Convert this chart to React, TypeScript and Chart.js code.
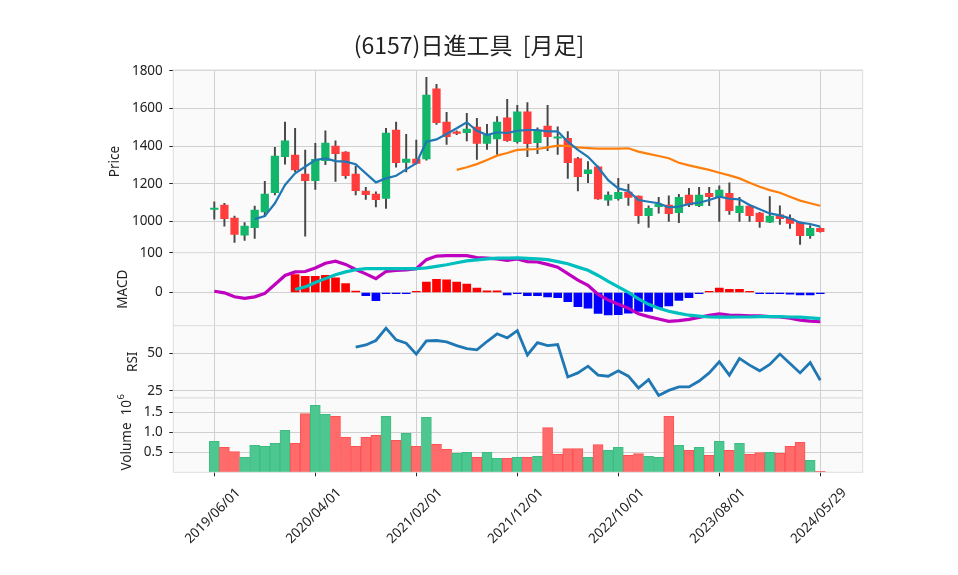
import React, { useEffect, useRef } from "react";
import { Chart, registerables } from "chart.js";

Chart.register(...registerables);

// ---------------- data ----------------
const dates: string[] = [
  "2019/06/01", "2019/07/01", "2019/08/01", "2019/09/01", "2019/10/01", "2019/11/01", "2019/12/01",
  "2020/01/01", "2020/02/01", "2020/03/01", "2020/04/01", "2020/05/01", "2020/06/01",
  "2020/07/01", "2020/08/01", "2020/09/01", "2020/10/01", "2020/11/01", "2020/12/01",
  "2021/01/01", "2021/02/01", "2021/03/01", "2021/04/01", "2021/05/01", "2021/06/01",
  "2021/07/01", "2021/08/01", "2021/09/01", "2021/10/01", "2021/11/01", "2021/12/01",
  "2022/01/01", "2022/02/01", "2022/03/01", "2022/04/01", "2022/05/01", "2022/06/01",
  "2022/07/01", "2022/08/01", "2022/09/01", "2022/10/01", "2022/11/01", "2022/12/01",
  "2023/01/01", "2023/02/01", "2023/03/01", "2023/04/01", "2023/05/01", "2023/06/01",
  "2023/07/01", "2023/08/01", "2023/09/01", "2023/10/01", "2023/11/01", "2023/12/01",
  "2024/01/01", "2024/02/01", "2024/03/01", "2024/04/01", "2024/05/01", "2024/05/29",
];
const xTickIdx: number[] = [0, 10, 20, 30, 40, 50, 60];

const open: number[] = [
  1063, 1087, 1018, 926, 966, 1050, 1152, 1343, 1352, 1251,
  1216, 1322, 1400, 1368, 1251, 1161, 1145, 1122, 1485, 1313,
  1331, 1331, 1703, 1527, 1472, 1471, 1501, 1414, 1437, 1549,
  1423, 1581, 1418, 1506, 1441, 1441, 1333, 1253, 1290, 1113,
  1120, 1156, 1134, 1030, 1078, 1087, 1046, 1140, 1083, 1149,
  1131, 1149, 1046, 1081, 1044, 996, 1034, 1016, 995, 924, 963,
];
const high: number[] = [
  1104, 1096, 1028, 993, 1081, 1212, 1393, 1527, 1494, 1379,
  1414, 1481, 1427, 1370, 1294, 1181, 1157, 1494, 1527, 1462,
  1432, 1765, 1727, 1579, 1480, 1573, 1547, 1515, 1556, 1648,
  1616, 1630, 1497, 1616, 1502, 1476, 1340, 1317, 1294, 1157,
  1228, 1196, 1136, 1083, 1127, 1136, 1143, 1175, 1181, 1181,
  1188, 1205, 1127, 1087, 1048, 1131, 1083, 1034, 998, 977, 965,
];
const low: number[] = [
  1011, 975, 888, 899, 910, 1028, 1140, 1304, 1264, 922,
  1170, 1301, 1212, 1228, 1140, 1117, 1076, 1069, 1287, 1262,
  1305, 1325, 1515, 1409, 1460, 1427, 1329, 1382, 1356, 1425,
  1415, 1343, 1359, 1375, 1356, 1228, 1161, 1205, 1117, 1085,
  1113, 1085, 989, 968, 1044, 1000, 993, 1078, 1078, 1083,
  1000, 1037, 1000, 1000, 968, 993, 984, 963, 878, 910, 943,
];
const close: number[] = [
  1068, 1014, 931, 975, 1060, 1145, 1347, 1427, 1273, 1216,
  1329, 1416, 1359, 1242, 1163, 1142, 1115, 1469, 1311, 1331,
  1308, 1671, 1524, 1450, 1467, 1490, 1414, 1458, 1527, 1428,
  1581, 1412, 1483, 1450, 1446, 1311, 1237, 1273, 1119, 1140,
  1154, 1127, 1030, 1069, 1090, 1041, 1127, 1087, 1140, 1131,
  1166, 1057, 1081, 1030, 998, 1028, 1014, 989, 924, 963, 945,
];
const ma5: (number | null)[] = [
  null, null, null, null, 1012, 1028, 1096, 1193, 1255, 1290,
  1326, 1334, 1320, 1317, 1303, 1255, 1207, 1228, 1242, 1276,
  1308, 1423, 1435, 1464, 1494, 1526, 1481, 1458, 1473, 1469,
  1481, 1485, 1485, 1478, 1478, 1423, 1379, 1343, 1287, 1219,
  1175, 1161, 1113, 1104, 1096, 1074, 1078, 1092, 1099, 1113,
  1131, 1120, 1117, 1087, 1064, 1042, 1032, 1016, 993, 986, 972,
];
const ma25: (number | null)[] = [
  null, null, null, null, null, null, null, null, null, null,
  null, null, null, null, null, null, null, null, null, null,
  null, null, null, null, 1273, 1287, 1304, 1326, 1349, 1363,
  1379, 1382, 1384, 1393, 1402, 1400, 1393, 1389, 1386, 1386,
  1386, 1388, 1370, 1358, 1347, 1335, 1311, 1297, 1285, 1273,
  1258, 1244, 1228, 1205, 1184, 1166, 1152, 1131, 1110, 1096, 1083,
];
const macd: number[] = [
  3, -1, -11, -15, -11, -2.5, 20, 43, 52, 53,
  62, 74, 79, 71, 58, 47, 35, 53, 56, 57,
  60, 83, 92, 93, 93, 93, 88, 87, 85, 81,
  85, 78, 77, 71, 64, 47.5, 31, 18, -5, -19,
  -30, -40, -54, -61, -67, -73, -71, -68, -63, -58,
  -54, -57, -58, -59, -59, -61, -62, -65, -70, -72.5, -74,
];
const signal: (number | null)[] = [
  null, null, null, null, null, null, null, null, 7.5, 14,
  25, 35, 45, 52, 57.5, 60, 60, 60, 60, 60,
  60, 62, 66, 70, 75, 80, 82.5, 85, 87, 87,
  87.5, 86, 85, 83, 78, 72.5, 64, 56, 43, 28,
  14, 0, -16, -30, -40, -47.5, -53, -57.5, -60, -62,
  -62.5, -62.5, -62, -62, -61, -61, -61, -62, -62.5, -64, -66,
];
const hist: (number | null)[] = [
  null, null, null, null, null, null, null, null, 45, 41,
  41, 43, 37, 22.5, 3.3, -8, -21, -3, -1.5, -0.5,
  0.5, 26, 33, 32, 26, 21, 11, 4, 4, -6,
  -1.5, -8, -8, -11, -13, -23, -36, -40, -53, -57,
  -56, -52.5, -48, -48, -37.5, -34, -20, -13, -3, 2.5,
  11, 8, 8, 3, -1.5, -1.5, -1.5, -4, -6, -6, -3,
];
const rsi: (number | null)[] = [
  null, null, null, null, null, null, null, null, null, null,
  null, null, null, null, 54.1, 55.6, 58.6, 66.9, 59, 56.8,
  49.5, 58.3, 58.6, 57.7, 55.2, 53.2, 52.3, 57.9, 63.1, 60.4,
  65.2, 48.9, 57.2, 55.2, 55.9, 34.2, 36.9, 41.4, 35.4, 34.7,
  38.3, 34.7, 26.8, 32.4, 21.8, 25.2, 27.5, 27.5, 31.5, 36.9,
  44.4, 35.4, 46.6, 42.1, 38.3, 42.6, 49.5, 43.2, 36.9, 43.9, 32,
];
const volume: number[] = [
  0.775, 0.625, 0.517, 0.375, 0.675, 0.65, 0.725, 1.05, 0.725, 1.467,
  1.675, 1.45, 1.4, 0.875, 0.65, 0.875, 0.925, 1.4, 0.8, 0.975,
  0.65, 1.375, 0.7, 0.575, 0.475, 0.5, 0.375, 0.5, 0.35, 0.35,
  0.375, 0.375, 0.4, 1.117, 0.45, 0.59, 0.59, 0.375, 0.69, 0.55,
  0.625, 0.425, 0.467, 0.4, 0.375, 1.4, 0.675, 0.55, 0.625, 0.425,
  0.775, 0.55, 0.725, 0.45, 0.49, 0.5, 0.475, 0.65, 0.75, 0.3, 0.025,
];

const priceTicks = [1000, 1200, 1400, 1600, 1800];
const macdTicks = [0, 100];
const rsiTicks = [25, 50];
const volTicks = [0.5, 1.0, 1.5];
const titleText = "(6157)日進工具  [月足]";

// ---------------- layout / style ----------------
const W = 958;
const H = 575;
const PLOT_LEFT = 173.3;
const PLOT_RIGHT = 862.7;
const X_MIN = -4.06;
const X_MAX = 64.2;
const FONT = "'Noto Sans', 'DejaVu Sans', sans-serif";
const CJK = "'Noto Sans CJK JP', 'Noto Sans', sans-serif";
const TXT = "#222222";
const GRID = "#d0d0d0";
const UP = "#11b66b";
const DOWN = "#ff3d3d";

const pts = (arr: (number | null)[]) =>
  arr.map((v, i) => (v == null ? null : { x: i, y: v })).filter((p) => p !== null) as { x: number; y: number }[];

function xScale(bottom: boolean) {
  return {
    type: "linear",
    min: X_MIN,
    max: X_MAX,
    offset: false,
    afterBuildTicks: (s: any) => {
      s.ticks = xTickIdx.map((v) => ({ value: v }));
    },
    afterFit: (s: any) => {
      s.height = 0;
    },
    ticks: { display: false },
    grid: { color: GRID, lineWidth: 1, offset: false, drawTicks: bottom, tickLength: 4, tickColor: TXT },
    border: { display: false },
  };
}

function yScale(min: number, max: number, ticks: number[], fmt: (v: number) => string) {
  return {
    type: "linear",
    position: "left",
    min,
    max,
    afterBuildTicks: (s: any) => {
      s.ticks = ticks.map((v) => ({ value: v }));
    },
    afterFit: (s: any) => {
      s.width = PLOT_LEFT;
    },
    ticks: {
      callback: (v: any) => fmt(Number(v)),
      font: { family: FONT, size: 13.5 },
      color: TXT,
      padding: 6.5,
    },
    grid: { color: GRID, lineWidth: 1, tickLength: 4, tickColor: TXT },
    border: { display: false },
  };
}

function decor(id: string, drawText: (ctx: CanvasRenderingContext2D, chart: any) => void) {
  return {
    id,
    beforeDraw(chart: any) {
      const { ctx, chartArea: a } = chart;
      ctx.save();
      ctx.fillStyle = "#fafafa";
      ctx.fillRect(a.left, a.top, a.right - a.left, a.bottom - a.top);
      ctx.restore();
    },
    afterDraw(chart: any) {
      const { ctx, chartArea: a } = chart;
      ctx.save();
      ctx.strokeStyle = "#dedede";
      ctx.lineWidth = 1;
      ctx.strokeRect(a.left, a.top, a.right - a.left, a.bottom - a.top);
      ctx.restore();
      ctx.save();
      drawText(ctx, chart);
      ctx.restore();
    },
  };
}

function vText(ctx: CanvasRenderingContext2D, text: string, x: number, y: number) {
  ctx.save();
  ctx.translate(x, y);
  ctx.rotate(-Math.PI / 2);
  ctx.font = `13.5px ${FONT}`;
  ctx.fillStyle = TXT;
  ctx.textAlign = "center";
  ctx.textBaseline = "middle";
  ctx.fillText(text, 0, 0);
  ctx.restore();
}

function baseOptions(top: number, bottom: number, scales: any) {
  return {
    animation: false,
    responsive: false,
    devicePixelRatio: 1,
    events: [],
    layout: { padding: { top, bottom: H - bottom, left: 0, right: W - PLOT_RIGHT } },
    plugins: { legend: { display: false }, tooltip: { enabled: false } },
    scales,
  };
}

function priceConfig(): any {
  const bodies = open.map((o, i) => ({ x: i, y: [o, close[i]] }));
  const wicks = low.map((l, i) => ({ x: i, y: [l, high[i]] }));
  const colors = open.map((o, i) => (close[i] >= o ? UP : DOWN));
  return {
    type: "bar",
    data: {
      datasets: [
        { type: "line", data: pts(ma5), borderColor: "#1f77b4", borderWidth: 2.2, pointRadius: 0, tension: 0 },
        { type: "line", data: pts(ma25), borderColor: "#ff7f0e", borderWidth: 2.2, pointRadius: 0, tension: 0 },
        { type: "bar", data: bodies, backgroundColor: colors, borderWidth: 0, barThickness: 7.6, grouped: false, minBarLength: 1.5 },
        { type: "bar", data: wicks, backgroundColor: "#474747", borderWidth: 0, barThickness: 1.3, grouped: false },
      ],
    },
    options: baseOptions(70, 252.7, {
      x: xScale(false),
      y: yScale(833.6, 1803.5, priceTicks, (v) => String(v)),
    }),
    plugins: [
      decor("pdecor", (ctx) => {
        ctx.font = `23px ${CJK}`;
        ctx.fillStyle = TXT;
        ctx.textAlign = "center";
        ctx.textBaseline = "middle";
        ctx.fillText(titleText, 469, 45.5);
        vText(ctx, "Price", 115, 161.5);
      }),
    ],
  };
}

function macdConfig(): any {
  const histColors = hist.map((v) => ((v ?? 0) >= 0 ? "#ff0000" : "#0000ff"));
  return {
    type: "bar",
    data: {
      datasets: [
        { type: "line", data: pts(signal), borderColor: "#00bfbf", borderWidth: 3.2, pointRadius: 0, tension: 0 },
        { type: "line", data: pts(macd), borderColor: "#bf00bf", borderWidth: 3.2, pointRadius: 0, tension: 0 },
        {
          type: "bar",
          data: hist.map((v, i) => (v == null ? null : { x: i, y: v })).filter((p) => p !== null),
          backgroundColor: histColors.filter((_, i) => hist[i] != null),
          borderWidth: 0,
          barThickness: 8,
          grouped: false,
          minBarLength: 1.2,
        },
      ],
    },
    options: baseOptions(252.7, 325.7, {
      x: xScale(false),
      y: yScale(-84, 100.5, macdTicks, (v) => String(v)),
    }),
    plugins: [decor("mdecor", (ctx) => vText(ctx, "MACD", 122.7, 289.2))],
  };
}

function rsiConfig(): any {
  return {
    type: "line",
    data: {
      datasets: [
        { type: "line", data: pts(rsi), borderColor: "#1f77b4", borderWidth: 2.8, pointRadius: 0, tension: 0 },
      ],
    },
    options: baseOptions(325.7, 398, {
      x: xScale(false),
      y: yScale(20.1, 68.5, rsiTicks, (v) => String(v)),
    }),
    plugins: [decor("rdecor", (ctx) => vText(ctx, "RSI", 132.7, 361.8))],
  };
}

function volConfig(): any {
  const up = close.map((c, i) => i === 0 || c >= close[i - 1]);
  return {
    type: "bar",
    data: {
      datasets: [
        {
          type: "bar",
          data: volume.map((v, i) => ({ x: i, y: v })),
          backgroundColor: up.map((u) => (u ? "#4bc78f" : "#ff6b6b")),
          borderColor: up.map((u) => (u ? "#3dbd83" : "#ff5252")),
          borderWidth: 1,
          barThickness: 10,
          grouped: false,
        },
      ],
    },
    options: baseOptions(398, 472.3, {
      x: xScale(true),
      y: yScale(0, 1.8575, volTicks, (v) => v.toFixed(1)),
    }),
    plugins: [
      decor("vdecor", (ctx, chart) => {
        // y-axis title "Volume  10^6"
        ctx.save();
        ctx.translate(127, 432.5);
        ctx.rotate(-Math.PI / 2);
        ctx.fillStyle = TXT;
        ctx.textBaseline = "middle";
        ctx.textAlign = "left";
        const main = `13.5px ${FONT}`;
        const small = `9.5px ${FONT}`;
        const a = "Volume  10";
        ctx.font = main;
        const wA = ctx.measureText(a).width;
        ctx.font = small;
        const wB = ctx.measureText("6").width;
        const start = -(wA + wB) / 2;
        ctx.font = main;
        ctx.fillText(a, start, 0);
        ctx.font = small;
        ctx.fillText("6", start + wA + 0.5, -6);
        ctx.restore();
        // x tick labels, rotated 45°
        const xs = chart.scales.x;
        ctx.font = `13.5px ${FONT}`;
        ctx.fillStyle = TXT;
        ctx.textAlign = "center";
        ctx.textBaseline = "middle";
        xTickIdx.forEach((idx) => {
          const px = xs.getPixelForValue(idx);
          ctx.save();
          ctx.translate(px - 1.5, 516);
          ctx.rotate(-Math.PI / 4);
          ctx.fillText(dates[idx], 0, 0);
          ctx.restore();
        });
      }),
    ],
  };
}

export default function App() {
  const r1 = useRef<HTMLCanvasElement>(null);
  const r2 = useRef<HTMLCanvasElement>(null);
  const r3 = useRef<HTMLCanvasElement>(null);
  const r4 = useRef<HTMLCanvasElement>(null);

  useEffect(() => {
    const charts = [
      new Chart(r1.current as HTMLCanvasElement, priceConfig()),
      new Chart(r2.current as HTMLCanvasElement, macdConfig()),
      new Chart(r3.current as HTMLCanvasElement, rsiConfig()),
      new Chart(r4.current as HTMLCanvasElement, volConfig()),
    ];
    return () => charts.forEach((c) => c.destroy());
  }, []);

  const cs: React.CSSProperties = { position: "absolute", left: 0, top: 0, width: W, height: H };
  return (
    <div style={{ position: "fixed", left: 0, top: 0, width: W, height: H, background: "#ffffff" }}>
      <canvas ref={r1} width={W} height={H} style={cs} />
      <canvas ref={r2} width={W} height={H} style={cs} />
      <canvas ref={r3} width={W} height={H} style={cs} />
      <canvas ref={r4} width={W} height={H} style={cs} />
    </div>
  );
}
